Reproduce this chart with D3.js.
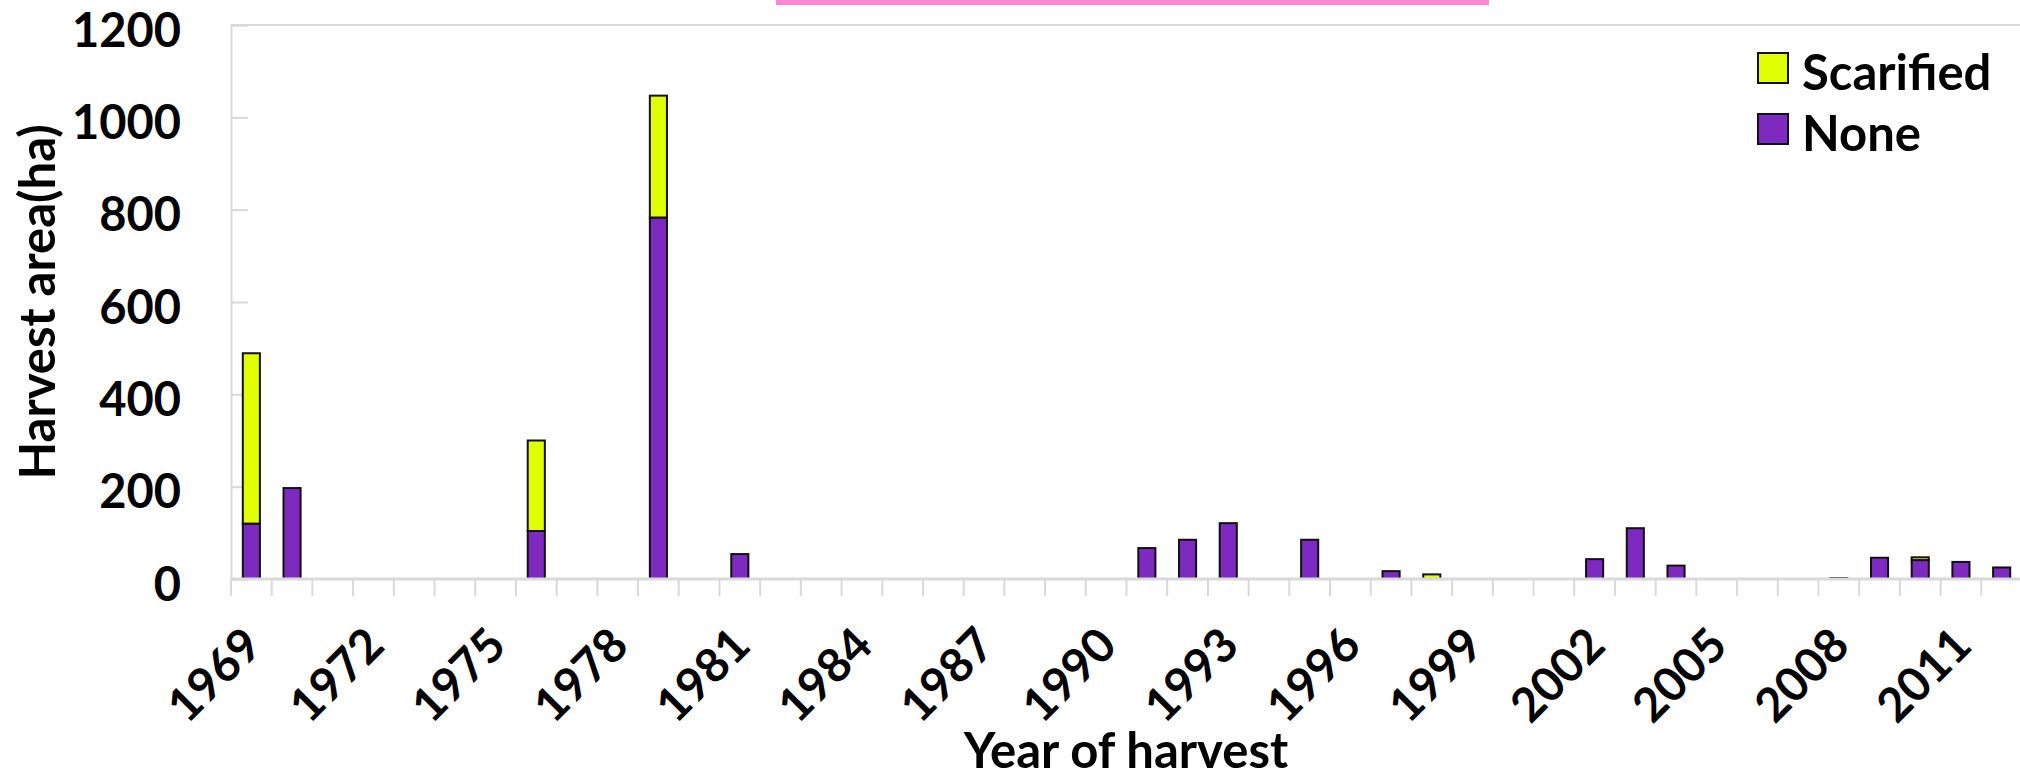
<!DOCTYPE html>
<html>
<head>
<meta charset="utf-8">
<script src="https://cdn.jsdelivr.net/npm/d3@7"></script>
<style>
  html, body { margin: 0; padding: 0; background: #ffffff; overflow: hidden; }
  svg { display: block; font-family: Lato, "Open Sans", sans-serif; font-weight: 700; }
</style>
</head>
<body>
<svg id="chart" width="2020" height="779"></svg>
<script>
// Harvested area per year, split by site preparation treatment
const years = d3.range(1969, 2013);
const noneValues = [
  120, 197, 0, 0, 0, 0, 0, 104, 0, 0,   // 1969-1978
  783, 0, 54, 0, 0, 0, 0, 0, 0, 0,      // 1979-1988
  0, 0, 67, 85, 121, 0, 85, 0, 17, 0,   // 1989-1998
  0, 0, 0, 43, 110, 29, 0, 0, 0, 2,     // 1999-2008
  46, 41, 37, 25                        // 2009-2012
];
const scarifiedValues = [
  369, 0, 0, 0, 0, 0, 0, 196, 0, 0,     // 1969-1978
  264, 0, 0, 0, 0, 0, 0, 0, 0, 0,       // 1979-1988
  0, 0, 0, 0, 0, 0, 0, 0, 0, 10,        // 1989-1998
  0, 0, 0, 0, 0, 0, 0, 0, 0, 0,         // 1999-2008
  0, 6, 0, 0                            // 2009-2012
];
const seriesNames = ["None", "Scarified"];
const legendOrder = ["Scarified", "None"];
const seriesColors = ["#7e29c0", "#e0ff00"];
const yTickValues = [0, 200, 400, 600, 800, 1000, 1200];
const xLabelYears = years.filter((y, i) => i % 3 === 0);
const yTitle = "Harvest area(ha)";
const xTitle = "Year of harvest";

const rows = years.map((yr, i) => ({ year: yr, None: noneValues[i], Scarified: scarifiedValues[i] }));

const svg = d3.select("#chart");
const plot = { left: 231, right: 2022, top: 25, bottom: 579 };
const axisColor = "#d9d9d9";
const tickFont = "47px";
const titleFont = "49px";

const x = d3.scaleBand()
  .domain(years)
  .range([plot.left, plot.right])
  .paddingInner(0.58)
  .paddingOuter(0.29);

const y = d3.scaleLinear()
  .domain([0, 1200])
  .range([plot.bottom, plot.top]);

const color = d3.scaleOrdinal().domain(seriesNames).range(seriesColors);

// accent strip along the top edge
svg.append("rect")
  .attr("x", 776).attr("y", 0)
  .attr("width", 713).attr("height", 5)
  .attr("fill", "#ff86d6");

// top frame line
svg.append("line")
  .attr("x1", plot.left).attr("x2", plot.right)
  .attr("y1", y(1200)).attr("y2", y(1200))
  .attr("stroke", axisColor).attr("stroke-width", 2);

// y axis with inward ticks
const yAxis = svg.append("g")
  .attr("transform", `translate(${plot.left},0)`)
  .call(d3.axisLeft(y).tickValues(yTickValues).tickSize(-17).tickPadding(50).tickFormat(d3.format("d")));
yAxis.select(".domain").attr("stroke", axisColor).attr("stroke-width", 2);
yAxis.selectAll(".tick line").attr("stroke", axisColor).attr("stroke-width", 2);
yAxis.selectAll(".tick text")
  .attr("dy", 21)
  .attr("fill", "#000")
  .style("font-size", tickFont)
  .style("font-weight", 700)
  .style("font-family", "Lato, sans-serif");

// category boundary ticks below the x axis
const step = x.step();
const boundaries = years.map(yr => x(yr) + x.bandwidth() / 2 - step / 2)
  .concat([x(years[years.length - 1]) + x.bandwidth() / 2 + step / 2]);
svg.append("g").selectAll("line")
  .data(boundaries)
  .join("line")
  .attr("x1", d => d).attr("x2", d => d)
  .attr("y1", plot.bottom).attr("y2", plot.bottom + 17)
  .attr("stroke", axisColor).attr("stroke-width", 2);

// stacked bars
const stacked = d3.stack().keys(seriesNames)(rows);
svg.append("g").selectAll("g")
  .data(stacked)
  .join("g")
  .attr("fill", d => color(d.key))
  .selectAll("rect")
  .data(d => d.filter(s => s[1] - s[0] > 0))
  .join("rect")
  .attr("x", d => x(d.data.year))
  .attr("width", x.bandwidth())
  .attr("y", d => y(d[1]))
  .attr("height", d => y(d[0]) - y(d[1]))
  .attr("stroke", "#111")
  .attr("stroke-width", 2);

// x axis line
svg.append("line")
  .attr("x1", plot.left).attr("x2", plot.right)
  .attr("y1", plot.bottom).attr("y2", plot.bottom)
  .attr("stroke", axisColor).attr("stroke-width", 3);

// rotated year labels
const xAxis = svg.append("g")
  .attr("transform", `translate(0,${plot.bottom})`)
  .call(d3.axisBottom(x).tickValues(xLabelYears).tickSize(0).tickFormat(d3.format("d")));
xAxis.select(".domain").remove();
xAxis.selectAll(".tick text")
  .attr("x", 0).attr("y", 0).attr("dy", 0)
  .attr("text-anchor", "end")
  .attr("transform", "translate(13,69) rotate(-45)")
  .attr("fill", "#000")
  .style("font-size", tickFont)
  .style("font-weight", 700)
  .style("font-family", "Lato, sans-serif");

// axis titles
svg.append("text")
  .attr("transform", "translate(55,302) rotate(-90)")
  .attr("text-anchor", "middle")
  .style("font-size", titleFont)
  .text(yTitle);

svg.append("text")
  .attr("x", 1126).attr("y", 768)
  .attr("text-anchor", "middle")
  .style("font-size", titleFont)
  .text(xTitle);

// legend
const legend = svg.append("g").attr("transform", "translate(1758,53)");
const item = legend.selectAll("g")
  .data(legendOrder)
  .join("g")
  .attr("transform", (d, i) => `translate(0,${i * 61})`);
item.append("rect")
  .attr("width", 30).attr("height", 30)
  .attr("fill", d => color(d))
  .attr("stroke", "#111").attr("stroke-width", 2);
item.append("text")
  .attr("x", 44).attr("y", 37)
  .style("font-size", titleFont)
  .text(d => d);
</script>
</body>
</html>
